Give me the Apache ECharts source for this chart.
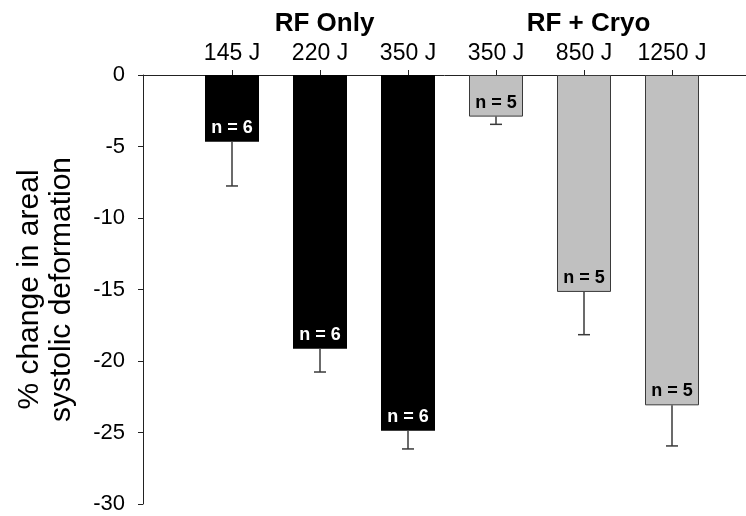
<!DOCTYPE html>
<html>
<head>
<meta charset="utf-8">
<script src="https://cdn.jsdelivr.net/npm/echarts@6/dist/echarts.min.js"></script>
<style>
  html, body { margin: 0; padding: 0; background: #fff; }
  #chart { width: 746px; height: 516px; }
</style>
</head>
<body>
<div id="chart"></div>
<script>
// Energy doses, grouped by ablation mode
const categories = ['145 J', '220 J', '350 J', '350 J', '850 J', '1250 J'];
const groups = ['RF Only', 'RF + Cryo'];
const groupOf = [0, 0, 0, 1, 1, 1];
// Mean % change in areal systolic deformation and its standard error
const means = [-4.66, -19.14, -24.87, -2.91, -15.17, -23.1];
const errors = [3.1, 1.63, 1.28, 0.54, 2.99, 2.84];
// Number of animals per dose
const sampleSizes = [6, 6, 6, 5, 5, 5];
// Y-axis ticks
const yMin = -30, yMax = 0, yStep = 5;

const font = '"Liberation Sans", Arial, sans-serif';
const groupFill = ['#000000', '#c0c0c0'];
const groupBorder = ['#000000', '#3a3a3a'];
const groupText = ['#ffffff', '#000000'];

const chart = echarts.init(document.getElementById('chart'));

const barData = means.map((v, i) => ({
  value: v,
  itemStyle: {
    color: groupFill[groupOf[i]],
    borderColor: groupBorder[groupOf[i]],
    borderWidth: groupOf[i] ? 1 : 0
  },
  label: { color: groupText[groupOf[i]] }
}));

const errData = means.map((v, i) => [i, v, v - errors[i]]);

chart.setOption({
  animation: false,
  grid: [
    { left: 143, right: 0, top: 75, bottom: 12 },
    { left: 188, width: 528, top: 75, bottom: 12 }
  ],
  xAxis: [
    {
      gridIndex: 0, type: 'value', min: 0, max: 1, position: 'top',
      axisLine: { show: true, onZero: false, lineStyle: { color: '#222', width: 1 } },
      axisTick: { show: false }, axisLabel: { show: false }, splitLine: { show: false }
    },
    {
      gridIndex: 1, type: 'category', data: categories, position: 'top',
      axisLine: { show: false },
      axisTick: { show: true, alignWithLabel: true, interval: 0, length: 5, lineStyle: { color: '#222' } },
      axisLabel: { color: '#000', fontFamily: font, fontSize: 23, margin: 10, interval: 0, hideOverlap: false },
      splitLine: { show: false }
    },
    {
      gridIndex: 1, type: 'category', data: groups, position: 'top',
      axisLine: { show: false }, axisTick: { show: false },
      axisLabel: {
        color: '#000', fontFamily: font, fontSize: 26, fontWeight: 'bold',
        margin: 38, padding: [0, 0, 0, 9], interval: 0
      },
      splitLine: { show: false }
    }
  ],
  yAxis: [
    {
      gridIndex: 0, type: 'value', min: yMin, max: yMax, interval: yStep,
      axisLine: { show: true, lineStyle: { color: '#222', width: 1 } },
      axisTick: { show: true, length: 5, lineStyle: { color: '#222' } },
      axisLabel: { color: '#000', fontFamily: font, fontSize: 22, margin: 18 },
      splitLine: { show: false },
      name: '% change in areal\nsystolic deformation',
      nameLocation: 'middle', nameGap: 65,
      nameTextStyle: { color: '#000', fontFamily: font, fontSize: 30, lineHeight: 32 }
    },
    {
      gridIndex: 1, type: 'value', min: yMin, max: yMax, interval: yStep, show: false
    }
  ],
  series: [
    {
      type: 'bar', xAxisIndex: 1, yAxisIndex: 1,
      barWidth: 54,
      data: barData,
      label: {
        show: true, position: 'insideBottom', distance: 5,
        fontFamily: font, fontSize: 18, fontWeight: 'bold',
        formatter: p => 'n = ' + sampleSizes[p.dataIndex]
      },
      z: 2
    },
    {
      type: 'custom', xAxisIndex: 1, yAxisIndex: 1,
      data: errData,
      z: 3,
      renderItem: (params, api) => {
        const top = api.coord([api.value(0), api.value(1)]);
        const bot = api.coord([api.value(0), api.value(2)]);
        const half = 6;
        const style = { stroke: '#3a3a3a', lineWidth: 1.5 };
        return {
          type: 'group',
          children: [
            { type: 'line', shape: { x1: top[0], y1: top[1], x2: bot[0], y2: bot[1] }, style },
            { type: 'line', shape: { x1: bot[0] - half, y1: bot[1], x2: bot[0] + half, y2: bot[1] }, style }
          ]
        };
      }
    }
  ]
});
</script>
</body>
</html>
